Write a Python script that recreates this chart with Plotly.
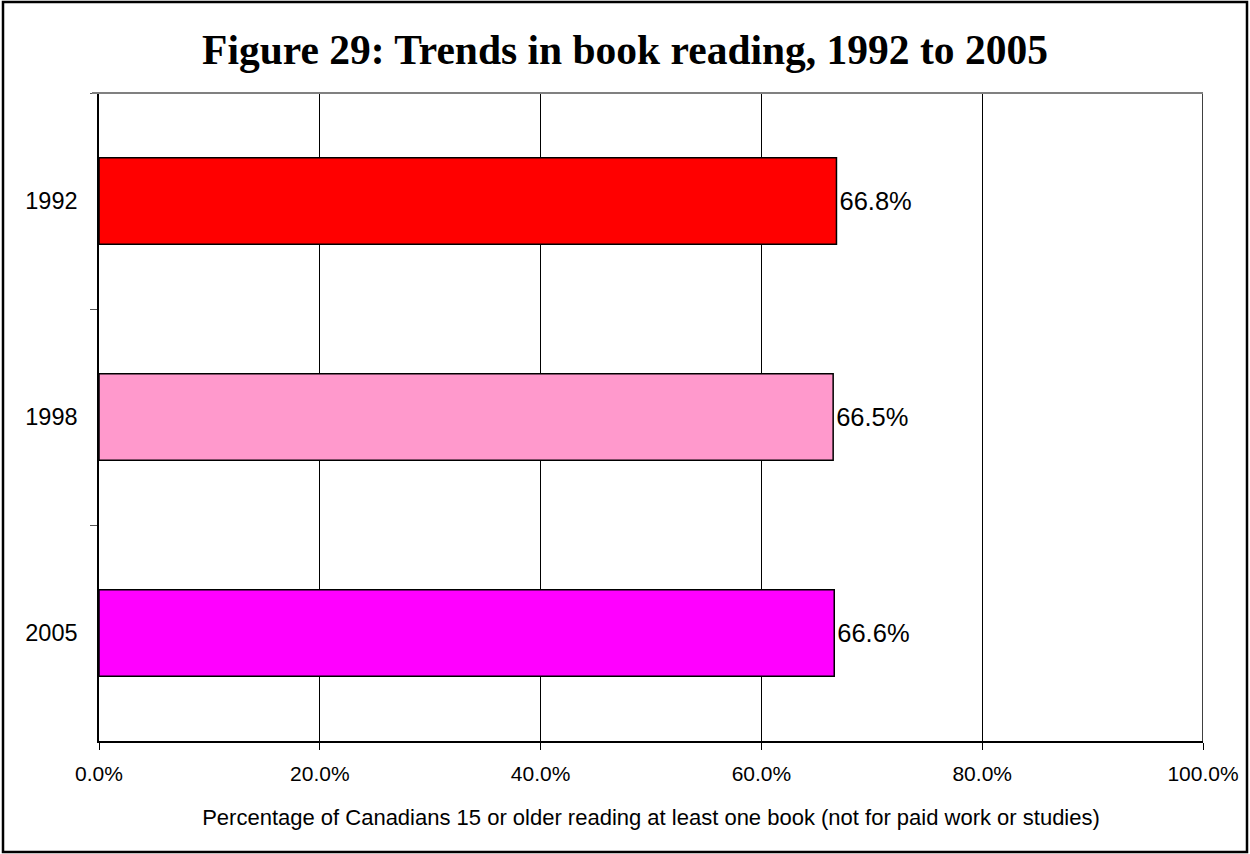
import plotly.graph_objects as go

years = ["1992", "1998", "2005"]
values = [66.8, 66.5, 66.6]
colors = ["#FF0000", "#FF99CC", "#FF00FF"]
x_ticks = [0, 20, 40, 60, 80, 100]
x_tick_labels = ["0.0%", "20.0%", "40.0%", "60.0%", "80.0%", "100.0%"]

W, H = 1250, 854
ML, MR, MT, MB = 99, 47, 93, 113
PW, PH = W - ML - MR, H - MT - MB

def px_x(p):
    return (p - ML) / PW

def px_y(p):
    return 1 - (p - MT) / PH

fig = go.Figure()
fig.add_trace(go.Bar(
    y=years, x=values, orientation="h",
    marker=dict(color=colors, line=dict(color="black", width=1.5)),
    width=0.4,
    text=[f"{v:.1f}%" for v in values],
    textposition="outside",
    textfont=dict(family="Liberation Sans, Arial, sans-serif", size=25.5, color="black"),
    cliponaxis=False,
    hoverinfo="skip",
))

fig.update_layout(
    width=W, height=H,
    margin=dict(l=ML, r=MR, t=MT, b=MB, pad=0),
    paper_bgcolor="white", plot_bgcolor="white",
    showlegend=False,
    title=dict(
        text="<b>Figure 29: Trends in book reading, 1992 to 2005</b>",
        x=0.5, xanchor="center", y=1 - 49 / H, yanchor="middle",
        font=dict(family="Liberation Serif, Times New Roman, serif", size=41.5, color="black"),
    ),
    font=dict(family="Liberation Sans, Arial, sans-serif", color="black"),
    xaxis=dict(
        range=[0, 100], tickvals=x_ticks, ticktext=x_tick_labels,
        showgrid=True, gridcolor="#000000", gridwidth=1,
        showline=True, linecolor="black", linewidth=1.5,
        ticks="outside", ticklen=7, tickcolor="black", tickwidth=1,
        tickfont=dict(size=21), zeroline=False, ticklabelstandoff=6,
        title=dict(text="Percentage of Canadians 15 or older reading at least one book (not for paid work or studies)",
                   font=dict(size=22), standoff=26),
    ),
    yaxis=dict(
        type="category", autorange="reversed",
        showline=True, linecolor="black", linewidth=1.5,
        ticks="outside", tickson="boundaries", ticklen=7, tickcolor="#555555", tickwidth=1,
        tickfont=dict(size=23.5), showgrid=False, zeroline=False, ticklabelstandoff=15,
    ),
    bargap=0.6,
)

# right edge line at 100% and top gray line
fig.add_shape(type="line", xref="x", yref="paper", x0=100, x1=100, y0=0, y1=1,
              line=dict(color="black", width=1.5))
fig.add_shape(type="line", xref="paper", yref="paper", x0=px_x(92), x1=1, y0=1, y1=1,
              line=dict(color="#808080", width=2))
# outer border
fig.add_shape(type="rect", xref="paper", yref="paper",
              x0=px_x(3), x1=px_x(1247), y0=px_y(2), y1=px_y(852),
              line=dict(color="black", width=2.5), fillcolor="rgba(0,0,0,0)", layer="above")

fig.write_html("out.html", config={"displayModeBar": False},
               post_script="document.body.style.margin='0';document.body.style.overflow='hidden';")
